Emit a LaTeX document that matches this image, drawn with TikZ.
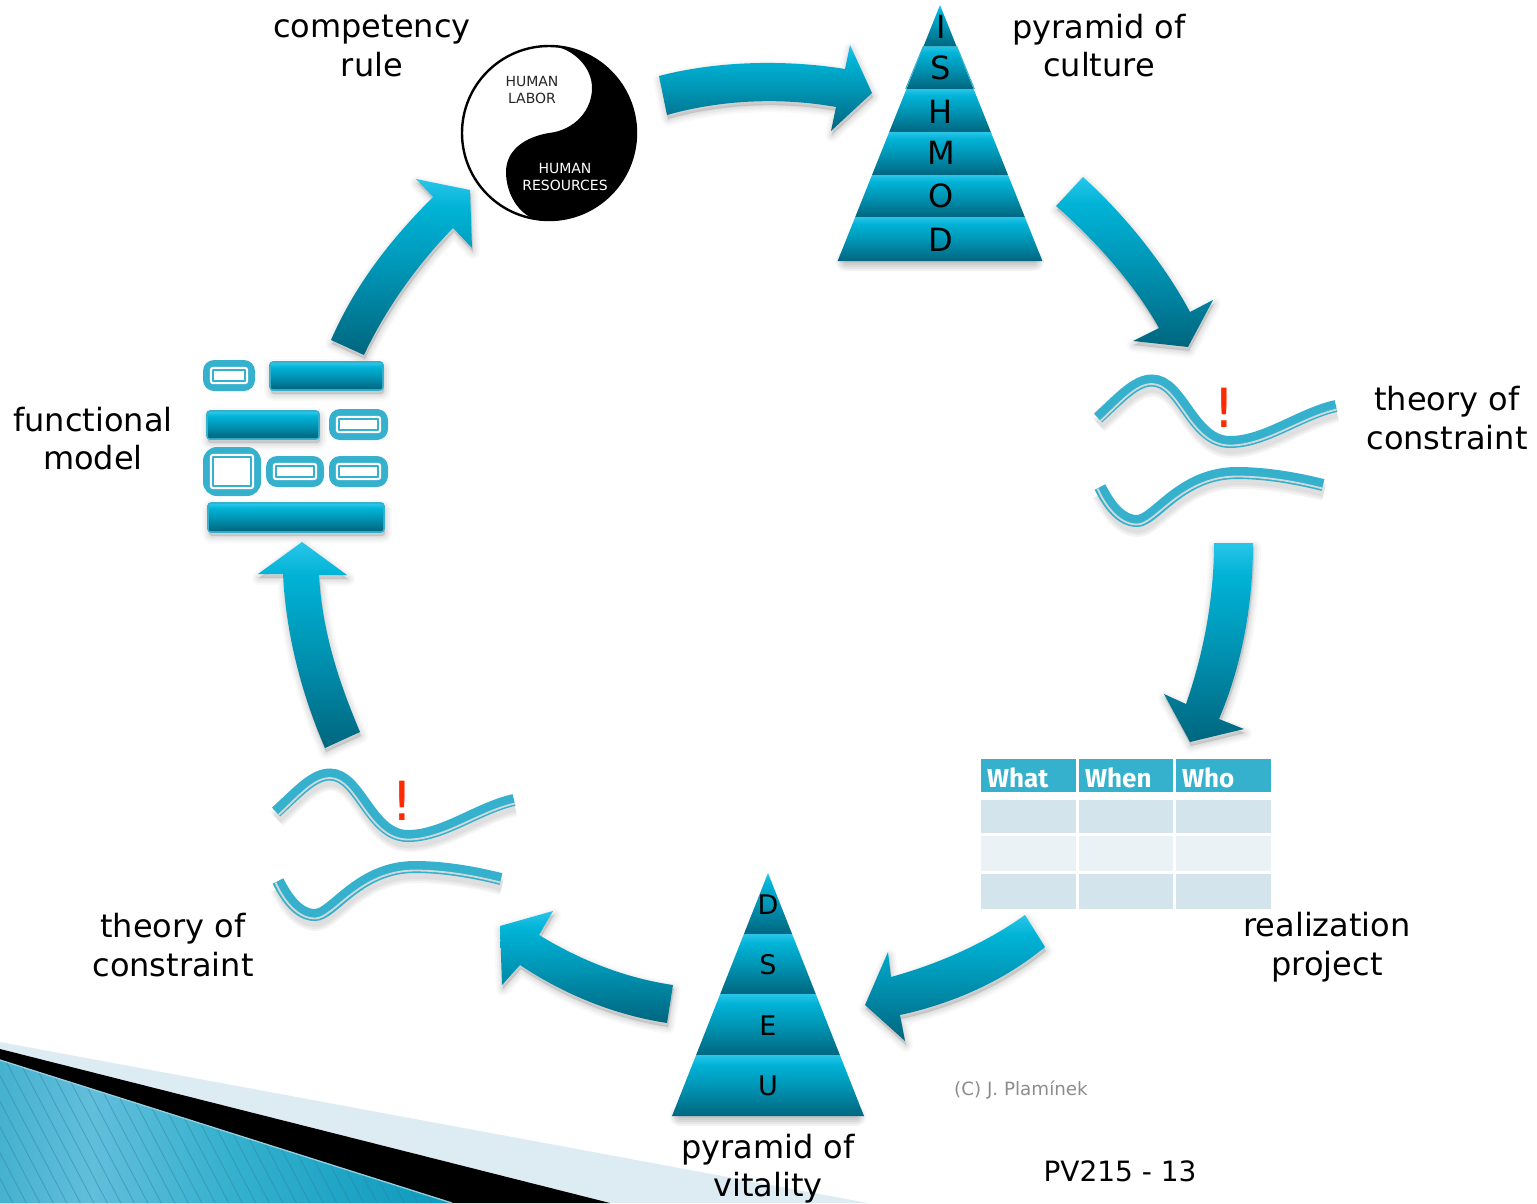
\documentclass[tikz,border=0pt]{standalone}
\usepackage{fontspec}
\setmainfont{DejaVu Sans}
\newfontfamily\headfont{Fira Sans}
\usetikzlibrary{calc,fit}
\definecolor{tealb}{HTML}{35B1CE}
\definecolor{rowa}{HTML}{D3E4EC}
\definecolor{rowb}{HTML}{EAF2F5}
\definecolor{paleb}{HTML}{DDEBF2}
\definecolor{gtop}{HTML}{29C5E9}
\definecolor{gupper}{HTML}{00B3D6}
\definecolor{gmid}{HTML}{0096B6}
\definecolor{gbot}{HTML}{00667F}
\definecolor{railgray}{HTML}{D0D8DA}
\definecolor{cornera}{HTML}{45B2D0}
\definecolor{cornerb}{HTML}{62BEDB}
\definecolor{cornerc}{HTML}{0A98BC}
\definecolor{stripe}{HTML}{2F7F9C}
\pgfdeclareverticalshading{tealgrad}{100bp}{color(0bp)=(gbot); color(25bp)=(gbot); color(50bp)=(gmid); color(67bp)=(gupper); color(75bp)=(gtop); color(100bp)=(gtop)}
\pgfdeclarehorizontalshading{cornergrad}{100bp}{color(0bp)=(cornera); color(25bp)=(cornera); color(35bp)=(cornerb); color(50bp)=(tealb); color(75bp)=(cornerc); color(100bp)=(cornerc)}
\tikzset{
  softsh/.style={
    preaction={draw=black,fill=black,draw opacity=.022,fill opacity=.022,line width=14pt,line join=round,transform canvas={xshift=1pt,yshift=-4pt}},
    preaction={draw=black,fill=black,draw opacity=.03,fill opacity=.03,line width=10pt,line join=round,transform canvas={xshift=1pt,yshift=-4pt}},
    preaction={draw=black,fill=black,draw opacity=.04,fill opacity=.04,line width=6pt,line join=round,transform canvas={xshift=1pt,yshift=-4pt}},
    preaction={draw=black,fill=black,draw opacity=.035,fill opacity=.035,line width=2.5pt,line join=round,transform canvas={xshift=1pt,yshift=-4pt}}},
  tealshade/.style={shade,shading=tealgrad},
  blockarrow/.style={softsh,tealshade},
  lbl/.style={font=\fontsize{32}{38.5}\selectfont,align=center,inner sep=0pt,text=black},
  pyrletter/.style={font=\fontsize{32}{38}\selectfont,anchor=base,inner sep=0pt,text=black},
  pyrletterb/.style={font=\fontsize{27}{32}\selectfont,anchor=base,inner sep=0pt,text=black},
  yytext/.style={font=\fontsize{14}{17}\selectfont,align=center,inner sep=0pt},
  tablecell/.style={rectangle,inner sep=0pt,anchor=north west},
  headcell/.style={tablecell,fill=tealb,minimum height=32.5pt},
  headtext/.style={text=white,font=\headfont\bfseries\fontsize{26}{30}\selectfont,anchor=base west,inner sep=0pt},
  railmain/.style={draw=tealb,line width=12pt},
  railline/.style={draw=railgray,line width=1.8pt},
  railsh/.style={draw=black,draw opacity=.045,line width=#1,transform canvas={xshift=1pt,yshift=-7pt}},
  bangmark/.style={font=\fontsize{54}{58}\selectfont,anchor=base,text={rgb,255:red,255;green,42;blue,0},inner sep=0pt},
  baseshadow/.style={draw=black,draw opacity=.05,line cap=round,line width=#1},
}
% segment of a pyramid: y1, y2, half-width slope, centre x
\newcommand\pyrseg[4]{%
  \pgfmathsetmacro\wa{#3*(#1-\pyrapex)}%
  \pgfmathsetmacro\wb{#3*(#2-\pyrapex)}%
  \path[tealshade] (#4-\wa,#1) -- (#4+\wa,#1) -- (#4+\wb,#2) -- (#4-\wb,#2) -- cycle;}
% functional-model box
\newcommand\fmbar[4]{%
  \path[softsh,tealshade,rounded corners=3pt] (#1,#2) rectangle (#3,#4);
  \draw[tealb,line width=1.6pt,rounded corners=3pt] (#1,#2) rectangle (#3,#4);
  \path[tealshade,rounded corners=2pt] (#1+1,#2+1) rectangle (#3-1,#4-1);}
\newcommand\fmbox[5]{%
  \fill[tealb,rounded corners=#5] (#1,#2) rectangle (#3,#4);
  \draw[white,line width=2.2pt,rounded corners=2pt] (#1+8,#2+8) rectangle (#3-8,#4-8);
  \draw[tealb,line width=1.8pt,fill=white,rounded corners=.5pt] (#1+10,#2+10) rectangle (#3-10,#4-10);}
% the pair of rails, with shift
\newcommand\railpair[2]{%
\begin{scope}[shift={(#1,#2)}]
  \foreach \w in {18pt,14pt,10pt}{
  \path[railsh=\w] (1098,418) .. controls (1120,398) and (1135,380.5) .. (1152,380.5) .. controls (1182,380.5) and (1192,442) .. (1230,442) .. controls (1265,442) and (1300,414) .. (1336,406);
  \path[railsh=\w] (1100,487) .. controls (1108,503) and (1120,521) .. (1137,521) .. controls (1155,521) and (1180,473) .. (1237,473) .. controls (1265,473) and (1295,478) .. (1323,485);}
  \path[railmain] (1098,418) .. controls (1120,398) and (1135,380.5) .. (1152,380.5) .. controls (1182,380.5) and (1192,442) .. (1230,442) .. controls (1265,442) and (1300,414) .. (1336,406);
  \path[railline] (1100.5,421) .. controls (1122,401) and (1136,384) .. (1152,384) .. controls (1179.5,384) and (1189.5,445.5) .. (1230,445.5) .. controls (1266,445.5) and (1301,417.5) .. (1337,409.5);
  \path[railmain] (1100,487) .. controls (1108,503) and (1120,521) .. (1137,521) .. controls (1155,521) and (1180,473) .. (1237,473) .. controls (1265,473) and (1295,478) .. (1323,485);
  \path[railline] (1097.5,488.5) .. controls (1105,505.5) and (1119,524.5) .. (1137,524.5) .. controls (1156,524.5) and (1181,476.5) .. (1237,476.5) .. controls (1265,476.5) and (1295,481.5) .. (1322.5,488.5);
\end{scope}}
\begin{document}
\begin{tikzpicture}[x=1pt,y=-1pt]
\useasboundingbox (0,0) rectangle (1537,1203);
% corner decoration
\fill[paleb] (0,1042) -- (868,1203) -- (0,1203) -- cycle;
\fill[black] (0,1049) -- (610,1203) -- (0,1203) -- cycle;
\begin{scope}
  \clip (0,1060) -- (452,1203) -- (0,1203) -- cycle;
  \shade[shading=cornergrad] (0,1040) rectangle (460,1203);
  \foreach \k in {-8,...,36}{
    \draw[stripe,opacity=.45,line width=.9pt] (\k*13.5,1050) -- (\k*13.5+84,1210);}
\end{scope}
\draw[rowa!60!tealb,line width=1.3pt] (0,1060) -- (452,1203);
% arrows
\path[blockarrow] (659,76) .. controls (720,60) and (790,60) .. (845,69) -- (850,45) -- (872,93) -- (831,131) -- (836,107) .. controls (780,97) and (720,100) .. (667,115) -- cycle;
\path[blockarrow] (1083,177) .. controls (1125,215) and (1165,265) .. (1190,312) -- (1213,300) -- (1188,347) -- (1133,341) -- (1159,328) .. controls (1135,285) and (1095,240) .. (1056,206) -- cycle;
\path[blockarrow] (1214,543) -- (1253,543) .. controls (1253,610) and (1240,670) .. (1219,719) -- (1244,729) -- (1190,742) -- (1164,694) -- (1186,704) .. controls (1203,655) and (1214,600) .. (1214,543) -- cycle;
\path[blockarrow] (1025,915) -- (1045,947) .. controls (1005,980) and (955,1003) .. (900,1015) -- (905,1041) -- (865,1005) -- (888,952) -- (891,977) .. controls (945,962) and (990,940) .. (1025,915) -- cycle;
\path[blockarrow] (673,985) -- (667,1023) .. controls (615,1015) and (565,995) .. (520,965) -- (502,985) -- (500,926) -- (553,911) -- (539,935) .. controls (580,960) and (625,978) .. (673,985) -- cycle;
\path[blockarrow] (325,748) -- (360,732) .. controls (338,680) and (322,630) .. (319,575) -- (347,575) -- (302,542) -- (258,574) -- (283,574) .. controls (286,635) and (302,695) .. (325,748) -- cycle;
\path[blockarrow] (331,340) -- (364,355) .. controls (385,310) and (417,265) .. (453,228) -- (472,248) -- (470,190) -- (416,179) -- (433,197) .. controls (390,240) and (355,285) .. (331,340) -- cycle;
% yin-yang
\node[circle,minimum size=174pt,inner sep=0pt,fill=white] (yy) at (549,133) {};
\begin{scope}
  \clip (549,133) circle[radius=87pt];
  \fill[black] (553.6,46) -- (640,46) -- (640,222) -- (532.4,222) -- (532.4,218.4) .. controls (515,210) and (506,190) .. (506,172) .. controls (506,150) and (525,137) .. (549,133) .. controls (575,130) and (592,110) .. (592,88) .. controls (592,68) and (575,50) .. (553.6,46) -- cycle;
\end{scope}
\node[circle,minimum size=174pt,inner sep=0pt,draw=black,line width=2.4pt] (yyring) at (549,133) {};
\node[yytext,text=black!85] (yyl) at (532,89.5) {HUMAN\\LABOR};
\node[yytext,text=white] (yyr) at (565,177) {HUMAN\\RESOURCES};
% pyramid of culture
\def\pyrapex{5}
\foreach \w in {20pt,16pt,12pt,8pt,4pt}
  \path[baseshadow=\w] (846,261) -- (1034,261);
\pyrseg{5}{46}{0.4}{940}
\pyrseg{46}{89}{0.4}{940}
\draw[tealb,line width=1pt] (905.6,89) -- (923.2,46.5) -- (956.8,46.5) -- (974.4,89);
\pyrseg{89}{132}{0.4}{940}
\pyrseg{132}{175}{0.4}{940}
\pyrseg{175}{217}{0.4}{940}
\pyrseg{217}{261}{0.4}{940}
\foreach \name/\ch/\yy in {pi/I/38,ps/S/79,ph/H/123,pm/M/164,po/O/207,pd/D/251}
  \node[pyrletter] (\name) at (941,\yy) {\ch};
% pyramid of vitality
\def\pyrapex{873}
\foreach \w in {20pt,16pt,12pt,8pt,4pt}
  \path[baseshadow=\w] (680,1116) -- (856,1116);
\pyrseg{873}{934}{0.395}{768}
\pyrseg{934}{994}{0.395}{768}
\pyrseg{994}{1055}{0.395}{768}
\pyrseg{1055}{1116}{0.395}{768}
\foreach \name/\ch/\yy in {qd/D/914,qs/S/974,qe/E/1035,qu/U/1095}
  \node[pyrletterb] (\name) at (768,\yy) {\ch};
% rails
\railpair{0}{0}
\railpair{-822}{394}
\node[bangmark] (banga) at (1224,427) {!};
\node[bangmark] (bangb) at (402,820) {!};
% functional model
\fmbar{270}{362}{383}{390}
\fmbar{207}{411}{319}{439}
\fmbar{208}{503}{384}{532}
\fmbox{203}{360}{255}{391}{11pt}
\fmbox{329}{409}{388}{440}{11pt}
\fmbox{203}{447}{261}{496}{14pt}
\fmbox{266}{456}{324}{487}{11pt}
\fmbox{329}{456}{388}{487}{11pt}
% table
\node[headcell,minimum width=94.5pt] (h1) at (981,759) {};
\node[headcell,minimum width=94.5pt] (h2) at (1078.5,759) {};
\node[headcell,minimum width=95pt] (h3) at (1176,759) {};
\node[headtext] (tw) at (987,787.5) {What};
\node[headtext] (tn) at (1085,787.5) {When};
\node[headtext] (to) at (1182,787.5) {Who};
\foreach \c/\xx/\ww in {a/981/94.5pt,b/1078.5/94.5pt,c/1176/95pt}{
  \node[tablecell,fill=rowa,minimum width=\ww,minimum height=33pt] (r1\c) at (\xx,800) {};
  \node[tablecell,fill=rowb,minimum width=\ww,minimum height=35.5pt] (r2\c) at (\xx,835.5) {};
  \node[tablecell,fill=rowa,minimum width=\ww,minimum height=35.5pt] (r3\c) at (\xx,873.5) {};}
% labels
\node[lbl] (l1) at (372,46) {competency\\rule};
\node[lbl] (l2) at (1099,45.5) {pyramid of\\culture};
\node[lbl] (l3) at (1447,418) {theory of\\constraint};
\node[lbl] (l4) at (1327,947) {realization\\project};
\node[lbl] (l5) at (768,1168.5) {pyramid of\\vitality};
\node[lbl] (l6) at (173,945) {theory of\\constraint};
\node[lbl] (l7) at (93,438.5) {functional\\model};
\node[inner sep=0pt,text=black!45,font=\fontsize{18.3}{22}\selectfont] (cr) at (1021,1089.5) {(C) J. Plamínek};
\node[inner sep=0pt,text=black,font=\fontsize{28}{32}\selectfont] (pv) at (1120,1171) {PV215 - 13};
\end{tikzpicture}
\end{document}
